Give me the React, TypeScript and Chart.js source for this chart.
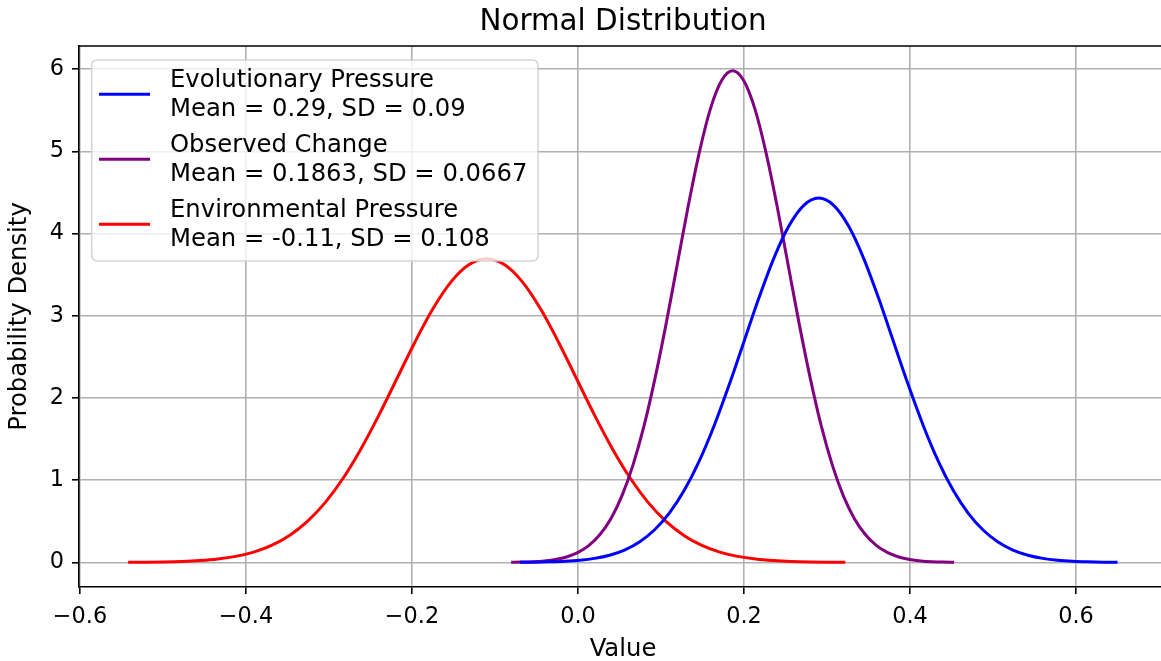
import React, { useEffect, useRef } from "react";
import { Chart, registerables } from "chart.js";

Chart.register(...registerables);

// ---- data ----
const seriesLabels = ["Evolutionary Pressure", "Observed Change", "Environmental Pressure"];
const seriesSubLabels = ["Mean = 0.29, SD = 0.09", "Mean = 0.1863, SD = 0.0667", "Mean = -0.11, SD = 0.108"];
const seriesColors = ["#0000ff", "#800080", "#ff0000"];

const evoX = [-0.07, -0.052, -0.034, -0.016, 0.002, 0.02, 0.038, 0.056, 0.074, 0.092, 0.11, 0.128, 0.146, 0.164, 0.182, 0.2, 0.218, 0.236, 0.254, 0.272, 0.29, 0.308, 0.326, 0.344, 0.362, 0.38, 0.398, 0.416, 0.434, 0.452, 0.47, 0.488, 0.506, 0.524, 0.542, 0.56, 0.578, 0.596, 0.614, 0.632, 0.65];
const evoY = [0.0015, 0.0032, 0.0068, 0.0137, 0.0265, 0.0492, 0.0879, 0.1509, 0.2488, 0.3942, 0.5999, 0.8772, 1.2325, 1.6636, 2.1576, 2.6886, 3.2188, 3.7025, 4.0919, 4.3449, 4.4327, 4.3449, 4.0919, 3.7025, 3.2188, 2.6886, 2.1576, 1.6636, 1.2325, 0.8772, 0.5999, 0.3942, 0.2488, 0.1509, 0.0879, 0.0492, 0.0265, 0.0137, 0.0068, 0.0032, 0.0015];

const obsX = [-0.0805, -0.0672, -0.0538, -0.0405, -0.0271, -0.0138, -0.0005, 0.0129, 0.0262, 0.0396, 0.0529, 0.0662, 0.0796, 0.0929, 0.1063, 0.1196, 0.1329, 0.1463, 0.1596, 0.173, 0.1863, 0.1996, 0.213, 0.2263, 0.2397, 0.253, 0.2663, 0.2797, 0.293, 0.3064, 0.3197, 0.333, 0.3464, 0.3597, 0.3731, 0.3864, 0.3997, 0.4131, 0.4264, 0.4398, 0.4531];
const obsY = [0.002, 0.0044, 0.0092, 0.0185, 0.0357, 0.0664, 0.1187, 0.2036, 0.3358, 0.5319, 0.8095, 1.1837, 1.663, 2.2448, 2.9113, 3.6277, 4.3432, 4.9959, 5.5213, 5.8627, 5.9811, 5.8627, 5.5213, 4.9959, 4.3432, 3.6277, 2.9113, 2.2448, 1.663, 1.1837, 0.8095, 0.5319, 0.3358, 0.2036, 0.1187, 0.0664, 0.0357, 0.0185, 0.0092, 0.0044, 0.002];

const envX = [-0.542, -0.5204, -0.4988, -0.4772, -0.4556, -0.434, -0.4124, -0.3908, -0.3692, -0.3476, -0.326, -0.3044, -0.2828, -0.2612, -0.2396, -0.218, -0.1964, -0.1748, -0.1532, -0.1316, -0.11, -0.0884, -0.0668, -0.0452, -0.0236, -0.002, 0.0196, 0.0412, 0.0628, 0.0844, 0.106, 0.1276, 0.1492, 0.1708, 0.1924, 0.214, 0.2356, 0.2572, 0.2788, 0.3004, 0.322];
const envY = [0.0012, 0.0027, 0.0057, 0.0114, 0.0221, 0.041, 0.0733, 0.1258, 0.2074, 0.3285, 0.4999, 0.731, 1.027, 1.3864, 1.798, 2.2405, 2.6823, 3.0854, 3.4099, 3.6208, 3.6939, 3.6208, 3.4099, 3.0854, 2.6823, 2.2405, 1.798, 1.3864, 1.027, 0.731, 0.4999, 0.3285, 0.2074, 0.1258, 0.0733, 0.041, 0.0221, 0.0114, 0.0057, 0.0027, 0.0012];

const xTicks = [-0.6, -0.4, -0.2, 0.0, 0.2, 0.4, 0.6];
const yTicks = [0, 1, 2, 3, 4, 5, 6];

const titleText = "Normal Distribution";
const xLabel = "Value";
const yLabel = "Probability Density";

const FONT = "'DejaVu Sans', sans-serif";

function fmtX(v: number): string {
  const s = Math.abs(v).toFixed(1);
  return v < -1e-9 ? "\u2212" + s : s;
}

export default function App() {
  const ref = useRef<HTMLCanvasElement | null>(null);

  useEffect(() => {
    if (!ref.current) return;
    const xs = [evoX, obsX, envX];
    const ys = [evoY, obsY, envY];

    const overlay = {
      id: "overlay",
      afterDraw(chart: any) {
        const { ctx, chartArea } = chart;
        const { left, right, top, bottom } = chartArea;
        ctx.save();
        // top & right spines
        ctx.strokeStyle = "#000";
        ctx.lineWidth = 1.6;
        ctx.beginPath();
        ctx.moveTo(left - 0.8, top);
        ctx.lineTo(right, top);
        ctx.lineTo(right, bottom);
        ctx.stroke();
        // title
        ctx.fillStyle = "#000";
        ctx.font = `29.4px ${FONT}`;
        ctx.textAlign = "center";
        ctx.textBaseline = "alphabetic";
        ctx.fillText(titleText, (left + right) / 2, 30);
        // legend box
        const bx = 91.7, by = 60, bw = 538 - 91.7, bh = 261 - 60, r = 6;
        ctx.beginPath();
        ctx.moveTo(bx + r, by);
        ctx.lineTo(bx + bw - r, by);
        ctx.quadraticCurveTo(bx + bw, by, bx + bw, by + r);
        ctx.lineTo(bx + bw, by + bh - r);
        ctx.quadraticCurveTo(bx + bw, by + bh, bx + bw - r, by + bh);
        ctx.lineTo(bx + r, by + bh);
        ctx.quadraticCurveTo(bx, by + bh, bx, by + bh - r);
        ctx.lineTo(bx, by + r);
        ctx.quadraticCurveTo(bx, by, bx + r, by);
        ctx.closePath();
        ctx.fillStyle = "rgba(255,255,255,0.8)";
        ctx.fill();
        ctx.strokeStyle = "rgba(204,204,204,0.8)";
        ctx.lineWidth = 1.6;
        ctx.stroke();
        ctx.font = `24.3px ${FONT}`;
        ctx.textAlign = "left";
        for (let i = 0; i < seriesLabels.length; i++) {
          const hy = 94.3 + 65 * i;
          ctx.strokeStyle = seriesColors[i];
          ctx.lineWidth = 3;
          ctx.beginPath();
          ctx.moveTo(99, hy);
          ctx.lineTo(150, hy);
          ctx.stroke();
          ctx.fillStyle = "#000";
          ctx.fillText(seriesLabels[i], 170, hy - 7);
          ctx.fillText(seriesSubLabels[i], 170, hy + 21.4);
        }
        ctx.restore();
      },
    };

    const chart = new Chart(ref.current, {
      type: "line",
      data: {
        datasets: seriesLabels.map((lab, i) => ({
          label: lab,
          data: xs[i].map((x, j) => ({ x, y: ys[i][j] })),
          borderColor: seriesColors[i],
          backgroundColor: seriesColors[i],
          borderWidth: 3,
          pointRadius: 0,
          fill: false,
          cubicInterpolationMode: "monotone" as const,
        })),
      },
      options: {
        responsive: false,
        animation: false,
        layout: { padding: { top: 46, right: 13, left: 0, bottom: 0 } },
        plugins: {
          legend: { display: false },
          title: { display: false },
          tooltip: { enabled: false },
        },
        scales: {
          x: {
            type: "linear",
            min: -0.6012,
            max: 0.7096,
            afterBuildTicks: (s: any) => {
              s.ticks = xTicks.map((v) => ({ value: v }));
            },
            afterFit: (s: any) => {
              s.height = 74;
            },
            ticks: {
              callback: (v: any) => fmtX(Number(v)),
              font: { family: FONT, size: 22.4 },
              color: "#000",
              padding: 10,
              maxRotation: 0,
              autoSkip: false,
            },
            grid: {
              color: "#b0b0b0",
              lineWidth: 1.6,
              tickColor: "#000",
              tickLength: 7,
              tickWidth: 1.6,
            },
            border: { color: "#000", width: 1.6 },
            title: {
              display: true,
              text: xLabel,
              font: { family: FONT, size: 24.3, lineHeight: 0.9 },
              color: "#000",
              padding: { top: 0, bottom: 0 },
            },
          },
          y: {
            type: "linear",
            min: -0.299,
            max: 6.283,
            afterBuildTicks: (s: any) => {
              s.ticks = yTicks.map((v) => ({ value: v }));
            },
            afterFit: (s: any) => {
              s.width = 79;
            },
            ticks: {
              callback: (v: any) => String(v),
              font: { family: FONT, size: 22.4 },
              color: "#000",
              padding: 8,
            },
            grid: {
              color: "#b0b0b0",
              lineWidth: 1.6,
              tickColor: "#000",
              tickLength: 7,
              tickWidth: 1.6,
            },
            border: { color: "#000", width: 1.6 },
            title: {
              display: true,
              text: yLabel,
              font: { family: FONT, size: 24.3 },
              color: "#000",
              padding: { top: 5, bottom: 0 },
            },
          },
        },
      },
      plugins: [overlay],
    });
    return () => chart.destroy();
  }, []);

  return (
    <div
      style={{
        position: "fixed",
        left: 0,
        top: 0,
        width: 1161,
        height: 661,
        overflow: "hidden",
        background: "#fff",
      }}
    >
      <canvas ref={ref} width={1180} height={661} style={{ display: "block" }} />
    </div>
  );
}
